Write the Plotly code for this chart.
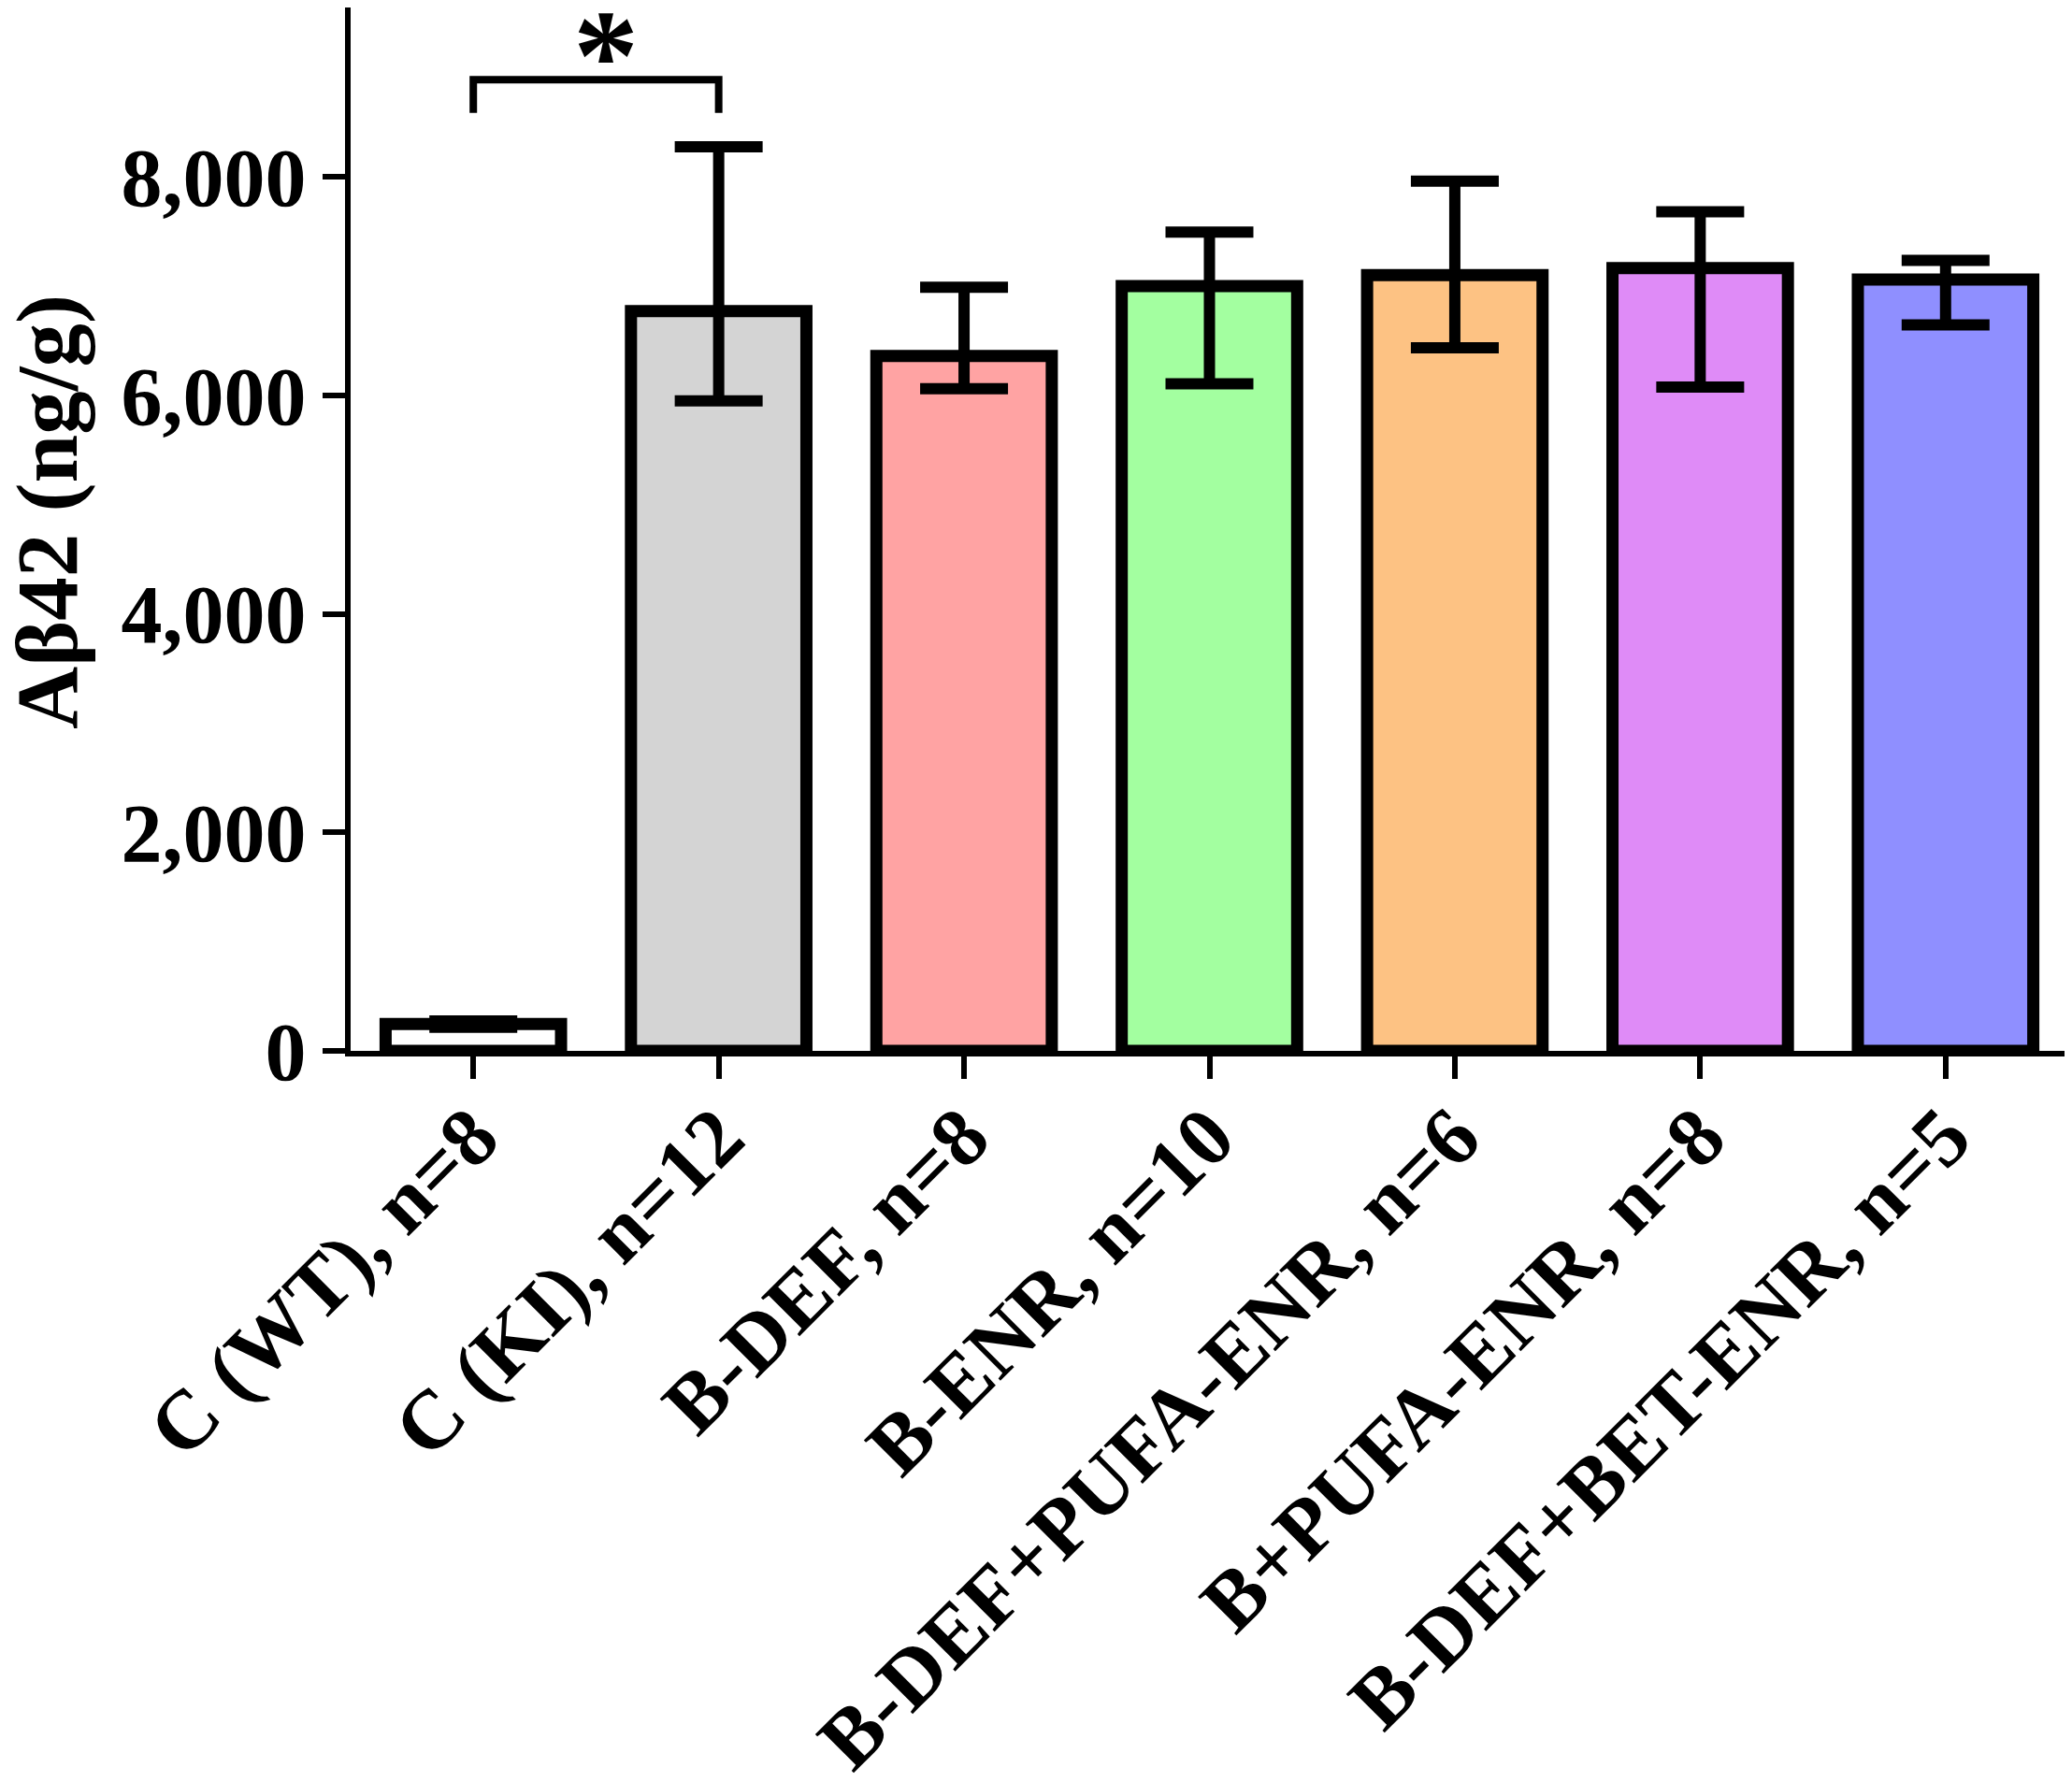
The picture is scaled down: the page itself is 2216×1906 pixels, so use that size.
import plotly.graph_objects as go

groups = [
    "C (WT), n=8",
    "C (KI), n=12",
    "B-DEF, n=8",
    "B-ENR, n=10",
    "B-DEF+PUFA-ENR, n=6",
    "B+PUFA-ENR, n=8",
    "B-DEF+BET-ENR, n=5",
]
abeta42 = [245, 6770, 6360, 7000, 7100, 7165, 7060]
err_up = [28, 1505, 630, 495, 860, 515, 175]
err_down = [28, 820, 300, 895, 665, 1090, 415]
colors = ["#ffffff", "#d4d4d4", "#ffa3a3", "#a3ffa0", "#fdc283", "#df8bf7", "#8f8fff"]
y_ticks = [0, 2000, 4000, 6000, 8000]
y_max = 9550

# significance bracket between the two controls
sig_pair = [0, 1]
sig_low, sig_high = 8585, 8890
sig_label = "*"

FONT = "Liberation Serif, Times New Roman, serif"

fig = go.Figure()
fig.add_trace(
    go.Bar(
        x=list(range(len(groups))),
        y=abeta42,
        width=0.715,
        marker=dict(color=colors, line=dict(color="black", width=13)),
        error_y=dict(
            type="data",
            symmetric=False,
            array=err_up,
            arrayminus=err_down,
            color="black",
            thickness=12,
            width=47,
        ),
        showlegend=False,
    )
)

x0, x1 = sig_pair
fig.add_shape(
    type="path",
    path=f"M {x0},{sig_low} L {x0},{sig_high} L {x1},{sig_high} L {x1},{sig_low}",
    xref="x",
    yref="y",
    line=dict(color="black", width=8),
)
fig.add_annotation(
    x=(x0 + x1) / 2 + 0.04,
    y=y_max,
    yshift=28,
    text=sig_label,
    showarrow=False,
    yanchor="top",
    font=dict(family=FONT, size=140, color="black", weight="bold"),
)
fig.add_annotation(
    x=-0.177,
    y=0.517,
    xref="paper",
    yref="paper",
    text="Aβ42 (ng/g)",
    textangle=-90,
    showarrow=False,
    xanchor="center",
    yanchor="middle",
    font=dict(family=FONT, size=93, color="black", weight="bold"),
)

fig.update_xaxes(
    range=[-0.5, len(groups) - 0.5],
    tickvals=list(range(len(groups))),
    ticktext=groups,
    tickangle=-45,
    ticklabelstandoff=-26,
    showline=True,
    linewidth=6,
    linecolor="black",
    ticks="outside",
    ticklen=24,
    tickwidth=6,
    tickcolor="black",
    tickfont=dict(family=FONT, size=89, color="black", weight="bold"),
    showgrid=False,
    zeroline=False,
    automargin=False,
)
fig.update_yaxes(
    range=[0, y_max],
    tickvals=y_ticks,
    tickformat=",d",
    showline=True,
    linewidth=6,
    linecolor="black",
    ticks="outside",
    ticklen=24,
    tickwidth=6,
    tickcolor="black",
    tickfont=dict(family=FONT, size=88, color="black", weight="bold"),
    showgrid=False,
    zeroline=False,
    automargin=False,
)
# the page body adds an 8px margin, so the figure is 8px smaller than the window
fig.update_layout(
    width=2208,
    height=1898,
    margin=dict(l=367, r=4, t=0, b=782),
    plot_bgcolor="white",
    paper_bgcolor="white",
)
fig.write_html("out.html")
